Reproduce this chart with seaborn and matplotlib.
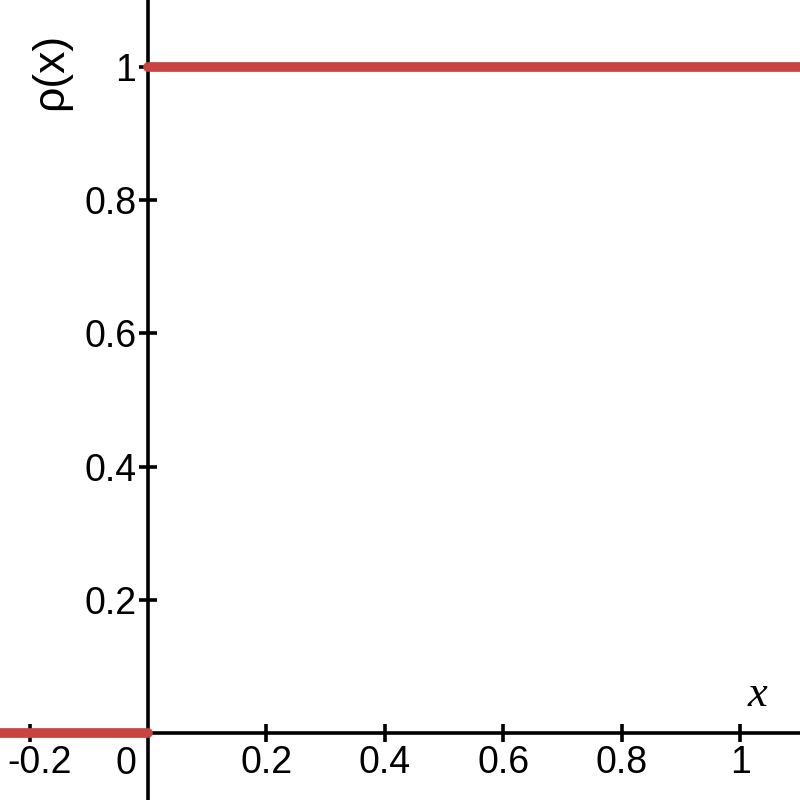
import numpy as np
import matplotlib.pyplot as plt
import matplotlib.transforms as mtransforms
import seaborn as sns

# step function rho(x): 0 left of the origin, 1 from the origin on
x_left = [-0.3, 0.0]
y_left = [0.0, 0.0]
x_right = [0.0, 1.2]
y_right = [1.0, 1.0]

x_ticks = [-0.2, 0.2, 0.4, 0.6, 0.8, 1.0]
x_labels = ["-0.2", "0.2", "0.4", "0.6", "0.8", "1"]
y_ticks = [0.2, 0.4, 0.6, 0.8, 1.0]
y_labels = ["0.2", "0.4", "0.6", "0.8", "1"]

sns.set_theme(style="white")
plt.rcParams['font.family'] = ['Liberation Sans', 'DejaVu Sans']

fig = plt.figure(figsize=(8, 8), dpi=100)
ax = fig.add_axes([0, 0, 1, 1])

red = "#c8443f"
sns.lineplot(x=x_left, y=y_left, ax=ax, color=red, lw=7, solid_capstyle="round", zorder=5)
sns.lineplot(x=x_right, y=y_right, ax=ax, color=red, lw=7, solid_capstyle="round", zorder=5)

ax.set_xlim(-0.25, 1.101)
ax.set_ylim(-0.1006, 1.1006)

for s in ["top", "right"]:
    ax.spines[s].set_visible(False)
for s in ["left", "bottom"]:
    ax.spines[s].set_position(("data", 0))
    ax.spines[s].set_linewidth(2.6)
    ax.spines[s].set_color("black")
    ax.spines[s].set_zorder(3)

ax.set_xticks(x_ticks)
ax.set_xticklabels(x_labels)
ax.set_yticks(y_ticks)
ax.set_yticklabels(y_labels)
ax.tick_params(bottom=True, left=True, direction="inout", length=13, width=2.6,
               color="black", labelsize=27, labelcolor="black", pad=2)
# the minus sign pushes "-0.2" a little to the right of its tick
lbl = ax.get_xticklabels()[0]
lbl.set_transform(lbl.get_transform() + mtransforms.ScaledTranslation(0.1, 0, fig.dpi_scale_trans))
ax.text(-0.019, -0.02, "0", ha="right", va="top", fontsize=27, color="black")

ax.set_xlabel("")
ax.set_ylabel("")
ax.text(0.063, 0.911, "ρ(x)", transform=ax.transAxes, rotation=90,
        ha="center", va="center", fontsize=32, color="black")
ax.text(1.029, 0.057, "x", ha="center", va="center", fontsize=32, color="black",
        family="Liberation Serif", style="italic")
ax.grid(False)

fig.savefig("out.png", dpi=100)
